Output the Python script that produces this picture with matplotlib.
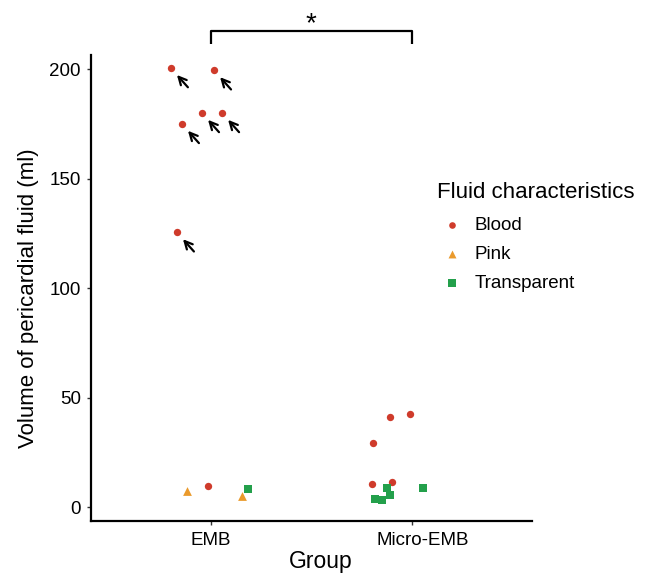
import numpy as np
import matplotlib.pyplot as plt
import matplotlib.transforms as mtransforms

plt.rcParams['font.family'] = ['Liberation Sans', 'DejaVu Sans']

groups = ['EMB', 'Micro-EMB']
kinds = ['Blood', 'Pink', 'Transparent']
colors = {'Blood': '#CF3B2B', 'Pink': '#EA9A2C', 'Transparent': '#23A04B'}
markers = {'Blood': 'o', 'Pink': '^', 'Transparent': 's'}
sizes = {'Blood': 28, 'Pink': 40, 'Transparent': 32}

# group index, jitter, volume, fluid, arrow flag
grp = [0, 0, 0, 0, 0, 0, 0, 0, 0, 0,
       1, 1, 1, 1, 1, 1, 1, 1, 1, 1]
jit = [-0.20, 0.015, -0.045, 0.055, -0.145, -0.17, -0.015, -0.12, 0.155, 0.185,
       -0.108, -0.01, -0.195, -0.20, -0.098, -0.123, -0.108, -0.182, -0.148, 0.057]
vol = [200.5, 199.5, 180, 180, 175, 125.5, 9.6, 7.3, 5.0, 8.2,
       41, 42.7, 29.5, 10.8, 11.5, 9.0, 5.8, 4.0, 3.5, 9.0]
fluid = ['Blood', 'Blood', 'Blood', 'Blood', 'Blood', 'Blood', 'Blood', 'Pink', 'Pink', 'Transparent',
         'Blood', 'Blood', 'Blood', 'Blood', 'Blood', 'Transparent', 'Transparent', 'Transparent',
         'Transparent', 'Transparent']
arrow = [1, 1, 1, 1, 1, 1, 0, 0, 0, 0,
         0, 0, 0, 0, 0, 0, 0, 0, 0, 0]

grp = np.array(grp)
xs = grp + 1 + np.array(jit)
vol = np.array(vol)
fluid = np.array(fluid)

fig = plt.figure(figsize=(6.48, 5.74), dpi=100)
ax = fig.add_axes([0.14, 0.093, 0.681, 0.811])

for k in kinds:
    m = fluid == k
    ax.scatter(xs[m], vol[m], color=colors[k], marker=markers[k], s=sizes[k],
               linewidths=0, label=k, zorder=3)

for x, y, a in zip(xs, vol, arrow):
    if a:
        ax.annotate('', xy=(x, y), xytext=(12.2, -13.7), textcoords='offset points',
                    arrowprops=dict(arrowstyle='->', lw=1.6, color='black',
                                    shrinkA=0, shrinkB=6.5, mutation_scale=14))

# significance bracket
ax.plot([1, 1, 2, 2], [211.5, 217.6, 217.6, 211.5], color='black', lw=1.6,
        clip_on=False, solid_capstyle='butt')
ax.text(1.5, 220.5, '*', ha='center', va='center', fontsize=20, clip_on=False)

ax.set_xlim(0.4, 2.6)
ax.set_ylim(-6.1, 206.5)
ax.set_xticks([1, 2])
ax.set_xticklabels(groups)
ax.set_yticks([0, 50, 100, 150, 200])
ax.tick_params(labelsize=13.5, length=3, width=1, color='#333333', labelcolor='black')
ax.tick_params(axis='x', pad=5)
ax.tick_params(axis='y', pad=4)
for s in ['top', 'right']:
    ax.spines[s].set_visible(False)
for s in ['left', 'bottom']:
    ax.spines[s].set_linewidth(1.6)

# second group label sits a little right of its tick in the reference
lab = ax.get_xticklabels()[1]
lab.set_transform(lab.get_transform() + mtransforms.ScaledTranslation(0.11, 0, fig.dpi_scale_trans))

ax.set_xlabel('Group', fontsize=16.5)
ax.xaxis.set_label_coords(0.522, -0.064)
ax.set_ylabel('Volume of pericardial fluid (ml)', fontsize=16)
ax.yaxis.set_label_coords(-0.118, 0.477)

leg = fig.legend(title='Fluid characteristics', loc='upper left',
                 bbox_to_anchor=(0.648, 0.712), frameon=False, fontsize=13.5,
                 title_fontsize=16, handletextpad=0.43, handlelength=1.6,
                 labelspacing=0.63, markerscale=0.9)
leg._legend_box.align = 'left'
leg._legend_box.sep = 10

fig.savefig('out.png', dpi=100)
